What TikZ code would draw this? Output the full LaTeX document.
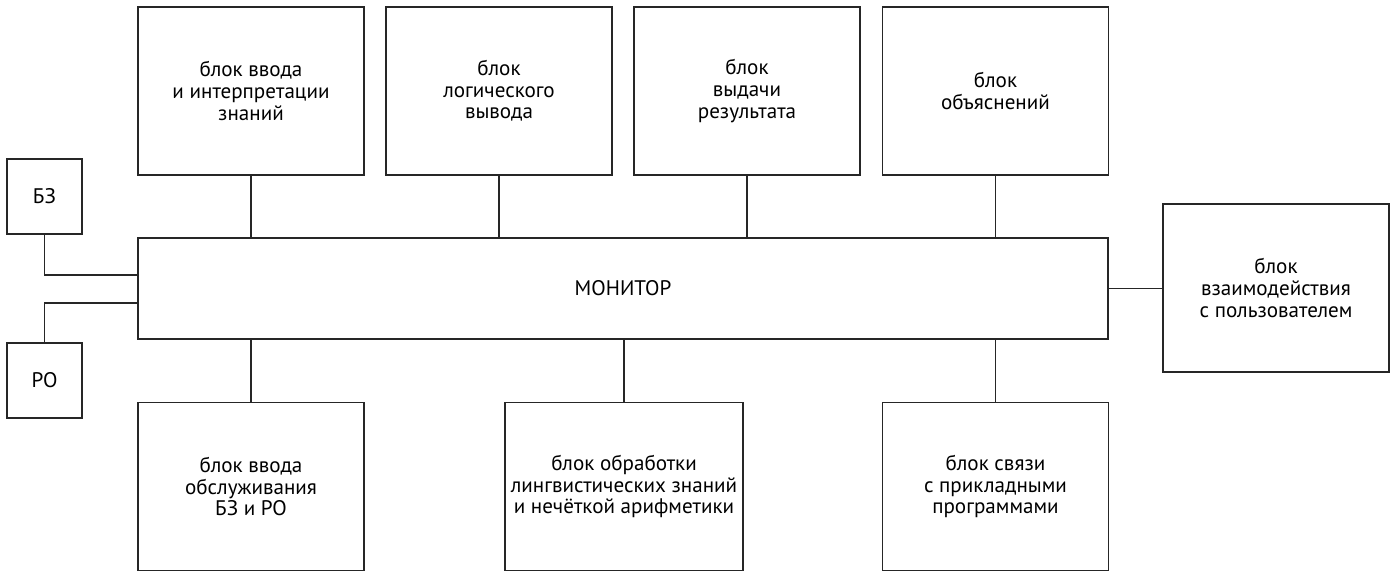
\documentclass[tikz,border=0pt]{standalone}
\usepackage{fontspec}
\setmainfont{PT Sans}
\usetikzlibrary{positioning}

\begin{document}
\begin{tikzpicture}[x=0.02cm, y=-0.02cm, line width=0.8pt, draw=black!85,
  blok/.style={draw, rectangle, align=center, minimum width=4.52cm, minimum height=3.36cm, font=\fontsize{12}{12.3}\selectfont},
  malyj/.style={draw, rectangle, minimum width=1.5cm, minimum height=1.5cm, font=\fontsize{12}{12.3}\selectfont}]
  \useasboundingbox (0,0) rectangle (1397,571);

  % upper row
  \node[blok] (vvod) at (251,91) {блок ввода\\и интерпретации\\знаний};
  \node[blok] (vyvod) at (499,91) {блок\\логического\\вывода};
  \node[blok] (vydacha) at (747,91) {блок\\выдачи\\результата};
  \node[blok] (obyasn) at (995.5,91) {блок\\объяснений};

  % monitor and side blocks
  \node[draw, rectangle, minimum width=19.4cm, minimum height=2.02cm, font=\fontsize{12}{12.3}\selectfont] (monitor) at (623,288.5) {МОНИТОР};
  \node[malyj] (bz) at (44.5,196.5) {БЗ};
  \node[malyj] (ro) at (44.5,380.5) {РО};
  \node[blok] (vzaim) at (1276,288) {блок\\взаимодействия\\с пользователем};

  % lower row
  \node[blok] (obsl) at (251,486.5) {блок ввода\\обслуживания\\БЗ и РО};
  \node[blok] (lingv) at (624,486.5) {блок обработки\\лингвистических знаний\\и нечёткой арифметики};
  \node[blok] (svyaz) at (995.5,486.5) {блок связи\\с прикладными\\программами};

  \draw (vvod.south) -- (vvod.south |- monitor.north);
  \draw (vyvod.south) -- (vyvod.south |- monitor.north);
  \draw (vydacha.south) -- (vydacha.south |- monitor.north);
  \draw (obyasn.south) -- (obyasn.south |- monitor.north);
  \draw (obsl.north) -- (obsl.north |- monitor.south);
  \draw (lingv.north) -- (lingv.north |- monitor.south);
  \draw (svyaz.north) -- (svyaz.north |- monitor.south);
  \draw (monitor.east) -- (monitor.east -| vzaim.west);
  \draw (bz.south) |- ([yshift=0.27cm]monitor.west);
  \draw (ro.north) |- ([yshift=-0.29cm]monitor.west);
\end{tikzpicture}
\end{document}
